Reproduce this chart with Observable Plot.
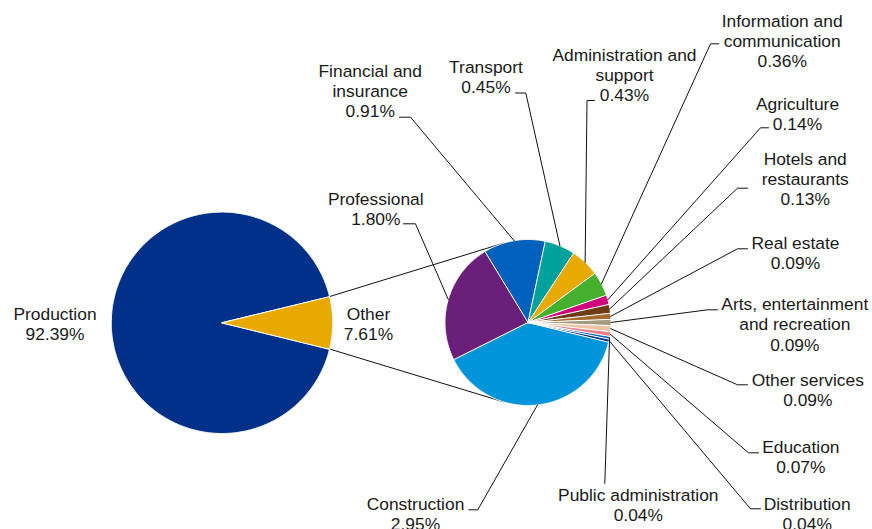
<!DOCTYPE html>
<html>
<head>
<meta charset="utf-8">
<script src="https://cdn.jsdelivr.net/npm/d3@7"></script>
<script src="https://cdn.jsdelivr.net/npm/@observablehq/plot@0.6"></script>
<style>
  html, body { margin: 0; padding: 0; background: #fff; }
</style>
</head>
<body>
<div id="chart"></div>
<script>
// ---------- data ----------
const mainCategories = ["Production", "Other"];
const mainValues = [92.39, 7.61];

const otherCategories = [
  "Construction", "Professional", "Financial and\ninsurance", "Transport",
  "Administration and\nsupport", "Information and\ncommunication", "Agriculture",
  "Hotels and\nrestaurants", "Real estate", "Arts, entertainment\nand recreation",
  "Other services", "Education", "Public administration", "Distribution"
];
const otherValues = [2.95, 1.80, 0.91, 0.45, 0.43, 0.36, 0.14, 0.13, 0.09, 0.09, 0.09, 0.07, 0.04, 0.04];

// ---------- styles ----------
const mainColors = ["#003087", "#E8A900"];
const otherColors = [
  "#0095DA", "#6A1F7A", "#0061BD", "#00A19C", "#E8A900", "#45B02D", "#D0007C",
  "#6E3B14", "#A5692E", "#A29B7E", "#EDC3A6", "#EA828A", "#0061BD", "#003087"
];

// ---------- layout (positions in page pixels) ----------
const W = 872, H = 529;
const FS = 17.4, LH = 20.2;
const bigPie = {cx: 221.5, cy: 322.3, r: 110.7};
const smallPie = {cx: 527.5, cy: 322, r: 83, start: 13.5};

// label layout: centre x, first baseline y, leader kink and leader end
const mainLabelLayout = [
  {x: 54.5, y: 319.3},
  {x: 368, y: 319.3}
];
const otherLabelLayout = [
  {x: 415, y: 509.3, kink: [477.3, 509.3], end: [468.3, 509.3]},
  {x: 375.3, y: 204, kink: [415, 223.3], end: [403, 223.3]},
  {x: 369.7, y: 76, kink: [410, 116.7], end: [399, 116.7]},
  {x: 485.5, y: 72, kink: [525.3, 92.5], end: [515, 92.5]},
  {x: 624, y: 60, kink: [586.5, 100], end: [594, 100]},
  {x: 781.7, y: 26, kink: [710, 43.3], end: [718.3, 43.3]},
  {x: 797, y: 109, kink: [760, 127.3], end: [768, 127.3]},
  {x: 804.7, y: 164.3, kink: [737, 187.7], end: [747, 187.7]},
  {x: 795, y: 248.3, kink: [737, 248.3], end: [747, 248.3]},
  {x: 794.3, y: 309.7, kink: [707, 309.3], end: [717, 309.3]},
  {x: 807.3, y: 385.7, kink: [737, 384.3], end: [747, 384.3]},
  {x: 800.3, y: 452, kink: [748, 452.3], end: [758, 452.3]},
  {x: 637.8, y: 500.7, kink: [604.3, 483], end: null},
  {x: 806.7, y: 509, kink: [750, 508.3], end: [760, 508.3]}
];

// ---------- geometry helpers ----------
const rad = d => d * Math.PI / 180;
const pt = (p, r, deg) => [p.cx + r * Math.cos(rad(deg)), p.cy + r * Math.sin(rad(deg))];

function slicePolygon(p, a0, a1, key) {
  const pts = [{x: p.cx, y: p.cy, key}];
  const n = Math.max(2, Math.ceil((a1 - a0) / 0.5));
  for (let i = 0; i <= n; i++) {
    const [x, y] = pt(p, p.r, a0 + (a1 - a0) * i / n);
    pts.push({x, y, key});
  }
  return pts;
}

// big pie: "Other" slice centred on the right
const mainTotal = d3.sum(mainValues);
const otherHalf = mainValues[1] / mainTotal * 180;
const sliceRows = [];
sliceRows.push(...slicePolygon(bigPie, otherHalf, 360 - otherHalf, "m0"));
sliceRows.push(...slicePolygon(bigPie, -otherHalf, otherHalf, "m1"));

// small pie
const otherTotal = d3.sum(otherValues);
const otherAngles = [];
{
  let a = smallPie.start;
  otherValues.forEach((v, i) => {
    const a1 = a + v / otherTotal * 360;
    otherAngles.push({a0: a, a1, mid: (a + a1) / 2});
    sliceRows.push(...slicePolygon(smallPie, a, a1, "o" + i));
    a = a1;
  });
}

const keys = [...mainCategories.map((_, i) => "m" + i), ...otherCategories.map((_, i) => "o" + i)];
const colors = [...mainColors, ...otherColors];

// connector lines: tangent from the "Other" slice edges to the small pie
function tangent(P, C, side) {
  const dx = P[0] - C.cx, dy = P[1] - C.cy;
  const d = Math.hypot(dx, dy);
  const phi = Math.atan2(dy, dx) * 180 / Math.PI;
  const alpha = Math.acos(C.r / d) * 180 / Math.PI;
  return pt(C, C.r, phi + side * alpha);
}
const P1 = pt(bigPie, bigPie.r, -otherHalf);
const P2 = pt(bigPie, bigPie.r, otherHalf);
const T1 = tangent(P1, smallPie, +1);
const T2 = tangent(P2, smallPie, -1);
const connectors = [
  {x1: P1[0], y1: P1[1], x2: T1[0], y2: T1[1]},
  {x1: P2[0], y1: P2[1], x2: T2[0], y2: T2[1]}
];

// leader lines
const leaderRows = [];
otherAngles.forEach((a, i) => {
  const L = otherLabelLayout[i];
  const [ex, ey] = pt(smallPie, smallPie.r, a.mid);
  leaderRows.push({x: ex, y: ey, key: i});
  leaderRows.push({x: L.kink[0], y: L.kink[1], key: i});
  if (L.end) leaderRows.push({x: L.end[0], y: L.end[1], key: i});
});

// label text lines
const fmt = v => v.toFixed(2) + "%";
const textRows = [];
function addLabel(name, value, L) {
  const lines = (name + "\n" + fmt(value)).split("\n");
  lines.forEach((t, j) => textRows.push({x: L.x, y: L.y + j * LH - 0.32 * FS, t}));
}
mainCategories.forEach((c, i) => addLabel(c, mainValues[i], mainLabelLayout[i]));
otherCategories.forEach((c, i) => addLabel(c, otherValues[i], otherLabelLayout[i]));

const chart = Plot.plot({
  width: W,
  height: H,
  margin: 0,
  x: {domain: [0, W], range: [0, W], axis: null},
  y: {domain: [0, H], range: [0, H], axis: null},
  color: {domain: keys, range: colors},
  style: {fontFamily: "'Liberation Sans', Arial, sans-serif", background: "#fff"},
  marks: [
    Plot.link(connectors, {x1: "x1", y1: "y1", x2: "x2", y2: "y2", stroke: "#111", strokeWidth: 1}),
    Plot.line(sliceRows, {x: "x", y: "y", z: "key", fill: "key", stroke: "#fff", strokeWidth: 1, curve: "linear-closed"}),
    Plot.line(leaderRows, {x: "x", y: "y", z: "key", stroke: "#111", strokeWidth: 1, curve: "linear"}),
    Plot.text(textRows, {x: "x", y: "y", text: "t", fontSize: FS, textAnchor: "middle", lineAnchor: "middle", fill: "#1a1a1a"})
  ]
});
document.getElementById("chart").appendChild(chart);
</script>
</body>
</html>
